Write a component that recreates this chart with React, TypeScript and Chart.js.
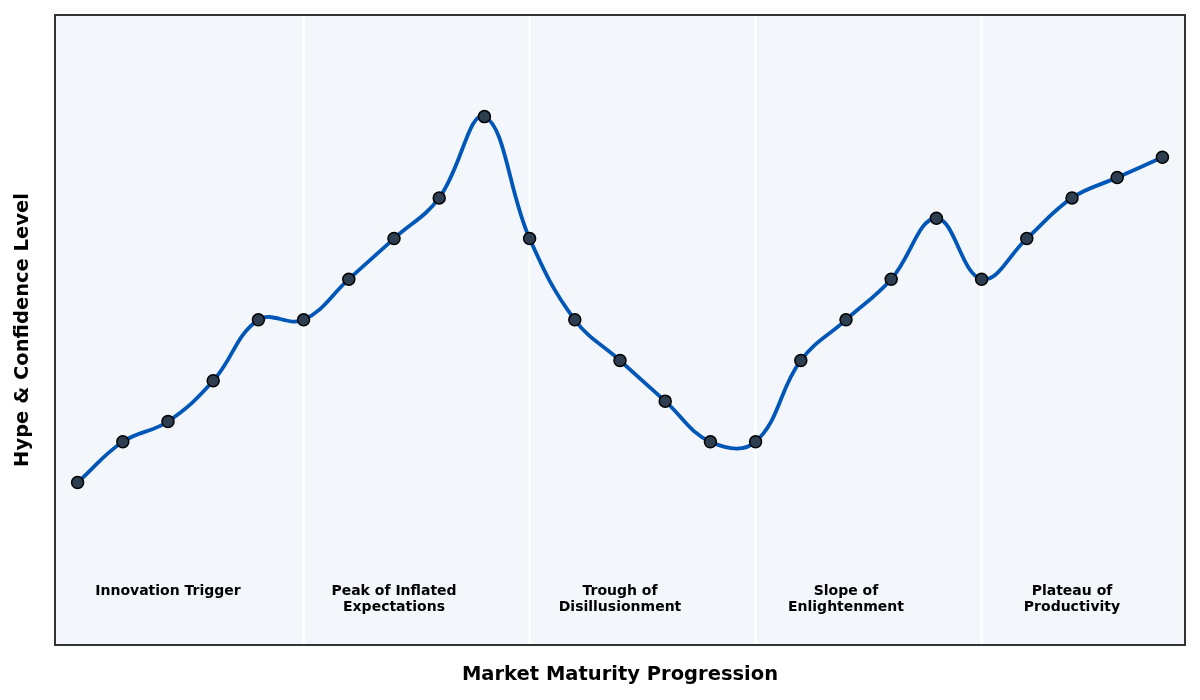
import { Chart, registerables, type ChartConfiguration, type Plugin } from "chart.js";
import { useEffect, useRef } from "react";

Chart.register(...registerables);

const stages = Array.from({ length: 25 }, (_, i) => `${i + 1}`);
const hype = [20, 30, 35, 45, 60, 60, 70, 80, 90, 110, 80, 60, 50, 40, 30, 30, 50, 60, 70, 85, 70, 80, 90, 95, 100];
const phaseBreaks = [5, 10, 15, 20];
const phaseCenters = [2, 7, 12, 17, 22];
const phaseNames = [
  ["Innovation Trigger"],
  ["Peak of Inflated", "Expectations"],
  ["Trough of", "Disillusionment"],
  ["Slope of", "Enlightenment"],
  ["Plateau of", "Productivity"],
];
const phaseLabelY = -6.8;
const yMin = -20;
const yMax = 135;

const FONT = "'DejaVu Sans', sans-serif";

const decorPlugin: Plugin<"line"> = {
  id: "decor",
  beforeDatasetsDraw(chart) {
    const { ctx, chartArea: a, scales } = chart;
    ctx.save();
    ctx.fillStyle = "#f3f6fa";
    ctx.fillRect(a.left, a.top, a.right - a.left, a.bottom - a.top);

    ctx.strokeStyle = "#ffffff";
    ctx.lineWidth = 2.5;
    phaseBreaks.forEach((idx) => {
      const x = scales.x.getPixelForValue(idx);
      ctx.beginPath();
      ctx.moveTo(x, a.top);
      ctx.lineTo(x, a.bottom);
      ctx.stroke();
    });

    ctx.fillStyle = "#000000";
    ctx.font = `bold 14px ${FONT}`;
    ctx.textAlign = "center";
    ctx.textBaseline = "middle";
    const y0 = scales.y.getPixelForValue(phaseLabelY);
    phaseNames.forEach((lines, i) => {
      const x = scales.x.getPixelForValue(phaseCenters[i]);
      lines.forEach((line, j) => ctx.fillText(line, x, y0 + j * 16));
    });
    ctx.restore();
  },
  afterDraw(chart) {
    const { ctx, chartArea: a } = chart;
    ctx.save();
    ctx.strokeStyle = "#333333";
    ctx.lineWidth = 2;
    ctx.strokeRect(a.left, a.top, a.right - a.left, a.bottom - a.top);

    ctx.fillStyle = "#000000";
    ctx.font = `bold 19.5px ${FONT}`;
    ctx.textAlign = "center";
    ctx.textBaseline = "middle";
    ctx.fillText("Market Maturity Progression", (a.left + a.right) / 2, 675);
    ctx.translate(23, (a.top + a.bottom) / 2);
    ctx.rotate(-Math.PI / 2);
    ctx.fillText("Hype & Confidence Level", 0, 0);
    ctx.restore();
  },
};

function getConfig(): ChartConfiguration<"line"> {
  return {
    type: "line",
    data: {
      labels: stages,
      datasets: [
        {
          label: "Hype",
          data: hype,
          borderColor: "#0057b7",
          borderWidth: 3.8,
          tension: 0.4,
          pointRadius: 6,
          pointBackgroundColor: "#2c3e50",
          pointBorderColor: "#000000",
          pointBorderWidth: 1.5,
          fill: false,
        },
      ],
    },
    options: {
      animation: false,
      responsive: false,
      maintainAspectRatio: false,
      layout: {
        padding: { left: 55, top: 15, right: 15, bottom: 55 },
      },
      plugins: {
        legend: { display: false },
        tooltip: { enabled: false },
      },
      scales: {
        x: {
          display: false,
          offset: true,
        },
        y: {
          display: false,
          min: yMin,
          max: yMax,
        },
      },
    },
    plugins: [decorPlugin],
  };
}

export default function App() {
  const canvasRef = useRef<HTMLCanvasElement>(null);

  useEffect(() => {
    if (!canvasRef.current) {
      return;
    }
    const chart = new Chart(canvasRef.current, getConfig());
    return () => {
      chart.destroy();
    };
  }, []);

  return (
    <div style={{ position: "fixed", left: 0, top: 0, width: 1200, height: 700, background: "#ffffff" }}>
      <canvas ref={canvasRef} width={1200} height={700} style={{ width: 1200, height: 700 }} />
    </div>
  );
}
